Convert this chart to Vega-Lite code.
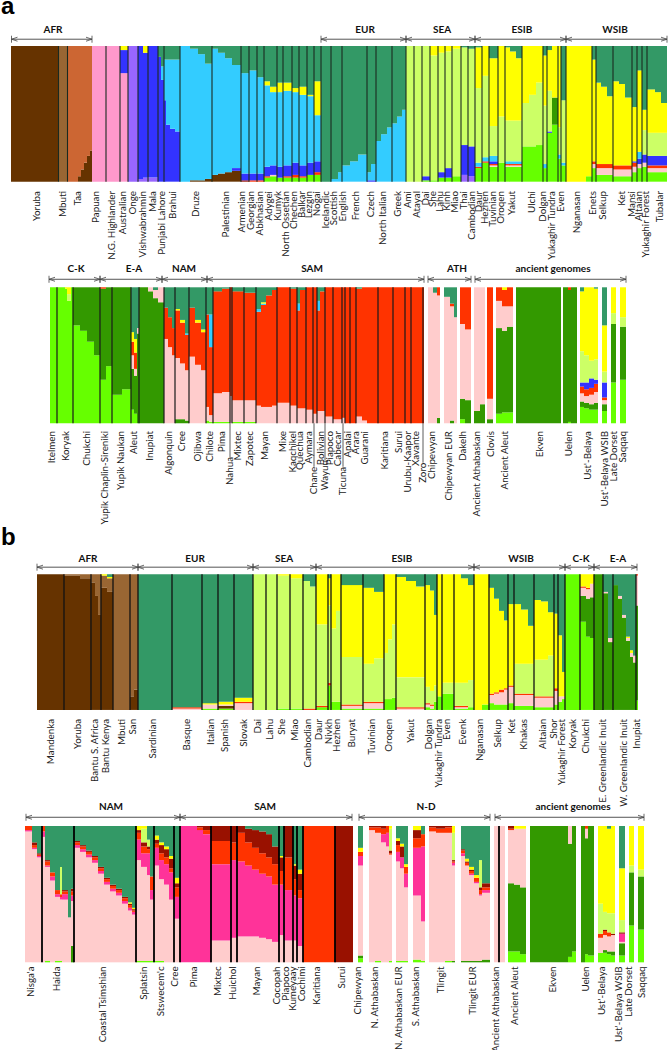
{"$schema":"https://vega.github.io/schema/vega-lite/v6.json","padding":0,"spacing":0,"bounds":"flush","config":{"view":{"stroke":null},"axis":{"disable":true},"legend":{"disable":true}},
"datasets":{
"a1":[
{"x":11,"e":58.5,"brn":1},{"x":58.5,"e":67.5,"tan":1},{"x":67.5,"e":78,"orng":1},{"x":78,"e":81,"orng":0.96,"brn":0.04},{"x":81,"e":84,"orng":0.91,"brn":0.09},{"x":84,"e":87,"orng":0.86,"brn":0.14},{"x":87,"e":90,"orng":0.81,"brn":0.19},{"x":90,"e":92,"orng":0.77,"brn":0.23},
{"x":92,"e":120,"pink":1},{"x":120,"e":128,"yel":0.03,"blue":0.17,"pink":0.8},{"x":128,"e":138,"purp":1},{"x":138,"e":143,"blue":0.98,"purp":0.02},{"x":143,"e":148,"yel":0.05,"blue":0.92,"purp":0.03},{"x":148,"e":158,"blue":0.97,"purp":0.03},{"x":158,"e":161,"teal":0.08,"blue":0.92},{"x":161,"e":164,"teal":0.15,"cyan":0.1,"blue":0.75},
{"x":164,"e":166,"teal":0.1,"cyan":0.3,"blue":0.6},{"x":166,"e":170,"teal":0.1,"cyan":0.48,"blue":0.42},{"x":170,"e":175,"teal":0.1,"cyan":0.51,"blue":0.39},{"x":175,"e":180,"teal":0.1,"cyan":0.53,"blue":0.37},
{"x":180,"e":190,"cyan":1},{"x":190,"e":198,"teal":0.02,"cyan":0.97,"brn":0.01},{"x":198,"e":205,"teal":0.06,"cyan":0.93,"brn":0.01},{"x":205,"e":212,"teal":0.13,"cyan":0.85,"brn":0.02},
{"x":212,"e":218,"teal":0.02,"cyan":0.93,"brn":0.05},{"x":218,"e":225,"teal":0.05,"cyan":0.89,"brn":0.06},{"x":225,"e":232,"teal":0.09,"cyan":0.84,"brn":0.07},{"x":232,"e":241,"teal":0.14,"cyan":0.76,"blue":0.02,"brn":0.08},
{"x":241,"e":249,"teal":0.2,"cyan":0.74,"blue":0.05,"dred":0.01},{"x":249,"e":257,"teal":0.18,"cyan":0.76,"blue":0.05,"red":0.01},{"x":257,"e":264,"teal":0.23,"cyan":0.71,"blue":0.05,"red":0.01},
{"x":264,"e":270,"teal":0.26,"yel":0.03,"cyan":0.6,"blue":0.07,"red":0.01,"grn":0.03},{"x":270,"e":277,"teal":0.3,"yel":0.04,"cyan":0.54,"blue":0.07,"peach":0.01,"grn":0.04},{"x":277,"e":283,"teal":0.27,"yel":0.07,"cyan":0.55,"blue":0.08,"grn":0.03},{"x":283,"e":292,"teal":0.27,"yel":0.06,"cyan":0.55,"blue":0.08,"red":0.01,"grn":0.03},{"x":292,"e":299,"teal":0.31,"yel":0.03,"cyan":0.52,"blue":0.09,"red":0.02,"grn":0.03},{"x":299,"e":307,"teal":0.3,"yel":0.06,"cyan":0.52,"blue":0.08,"red":0.01,"grn":0.03},{"x":307,"e":314,"teal":0.36,"yel":0.01,"cyan":0.49,"blue":0.09,"grn":0.05},{"x":314,"e":321,"teal":0.26,"yel":0.25,"cyan":0.34,"blue":0.08,"red":0.02,"grn":0.05},
{"x":321,"e":331,"teal":1},{"x":331,"e":338,"teal":0.98,"cyan":0.02},{"x":338,"e":342,"teal":0.93,"cyan":0.07},{"x":342,"e":350,"teal":0.88,"cyan":0.12},{"x":350,"e":358,"teal":0.85,"cyan":0.15},{"x":358,"e":367,"teal":0.8,"cyan":0.2},{"x":367,"e":371,"teal":0.93,"cyan":0.06,"blue":0.01},{"x":371,"e":376,"teal":0.87,"cyan":0.12,"blue":0.01},{"x":376,"e":381,"teal":0.7,"cyan":0.3},{"x":381,"e":387,"teal":0.65,"cyan":0.35},{"x":387,"e":392,"teal":0.6,"cyan":0.4},{"x":392,"e":397,"teal":0.57,"cyan":0.43},{"x":397,"e":402,"teal":0.52,"cyan":0.48},{"x":402,"e":406,"teal":0.47,"cyan":0.53},
{"x":406,"e":422,"lime":1},{"x":422,"e":430,"lime":0.96,"blue":0.03,"grn":0.01},{"x":430,"e":438,"yel":0.07,"lime":0.92,"grn":0.01},{"x":438,"e":445,"yel":0.05,"lime":0.88,"blue":0.04,"grn":0.03},{"x":445,"e":452,"yel":0.04,"lime":0.86,"blue":0.07,"grn":0.03},{"x":452,"e":461,"yel":0.02,"lime":0.94,"grn":0.04},{"x":461,"e":468,"teal":0.01,"lime":0.72,"blue":0.22,"purp":0.05},{"x":468,"e":475,"teal":0.02,"lime":0.72,"blue":0.22,"purp":0.04},
{"x":475,"e":482,"teal":0.01,"yel":0.3,"lime":0.55,"cyan":0.03,"red":0.01,"grn":0.1},{"x":482,"e":489,"yel":0.22,"lime":0.6,"cyan":0.03,"red":0.01,"grn":0.14},{"x":489,"e":498,"teal":0.09,"yel":0.5,"lime":0.22,"cyan":0.04,"blue":0.02,"red":0.01,"peach":0.01,"grn":0.11},{"x":498,"e":505,"yel":0.52,"lime":0.34,"grn":0.14},{"x":505,"e":510,"teal":0.01,"yel":0.54,"lime":0.3,"cyan":0.02,"red":0.01,"peach":0.01,"grn":0.11},{"x":510,"e":516,"teal":0.04,"yel":0.51,"lime":0.3,"cyan":0.02,"red":0.01,"peach":0.01,"grn":0.11},{"x":516,"e":522,"teal":0.09,"yel":0.46,"lime":0.3,"cyan":0.02,"red":0.01,"peach":0.01,"grn":0.11},
{"x":522,"e":529,"yel":0.42,"lime":0.32,"grn":0.26},{"x":529,"e":536,"yel":0.36,"lime":0.38,"grn":0.26},{"x":536,"e":543,"yel":0.27,"lime":0.46,"grn":0.27},{"x":543,"e":547,"teal":0.07,"yel":0.37,"lime":0.43,"cyan":0.03,"grn":0.1},{"x":547,"e":552,"teal":0.03,"yel":0.3,"lime":0.3,"blue":0.01,"grn":0.36},{"x":552,"e":558,"yel":0.38,"dgrn":0.2,"grn":0.42},{"x":558,"e":561,"yel":0.6,"lime":0.2,"cyan":0.03,"grn":0.17},{"x":561,"e":566,"teal":0.4,"lime":0.46,"cyan":0.02,"grn":0.12},
{"x":566,"e":586,"yel":1},{"x":586,"e":592,"yel":0.96,"grn":0.04},{"x":592,"e":596,"teal":0.1,"yel":0.75,"red":0.02,"peach":0.03,"grn":0.1},{"x":596,"e":601,"teal":0.27,"yel":0.6,"red":0.03,"peach":0.05,"grn":0.05},{"x":601,"e":607,"teal":0.3,"yel":0.57,"red":0.03,"peach":0.05,"grn":0.05},{"x":607,"e":613,"teal":0.37,"yel":0.5,"red":0.03,"peach":0.05,"grn":0.05},{"x":613,"e":619,"teal":0.26,"yel":0.62,"red":0.03,"peach":0.05,"grn":0.04},{"x":619,"e":625,"teal":0.28,"yel":0.6,"red":0.03,"peach":0.05,"grn":0.04},{"x":625,"e":632,"teal":0.38,"yel":0.5,"red":0.03,"peach":0.05,"grn":0.04},{"x":632,"e":637,"teal":0.45,"yel":0.4,"blue":0.01,"red":0.03,"peach":0.04,"grn":0.07},{"x":637,"e":642,"teal":0.18,"yel":0.6,"cyan":0.05,"blue":0.04,"peach":0.03,"grn":0.1},{"x":642,"e":647,"teal":0.47,"yel":0.15,"lime":0.18,"blue":0.06,"peach":0.03,"grn":0.11},{"x":647,"e":655,"teal":0.32,"yel":0.32,"lime":0.17,"blue":0.07,"red":0.02,"peach":0.03,"grn":0.07},{"x":655,"e":661,"teal":0.34,"yel":0.3,"lime":0.17,"blue":0.07,"red":0.02,"peach":0.03,"grn":0.07},{"x":661,"e":667,"teal":0.42,"yel":0.22,"lime":0.17,"blue":0.07,"red":0.02,"peach":0.03,"grn":0.07}
],
"a2":[
{"x":50,"e":65,"grn":1},{"x":65,"e":67,"yel":0.01,"grn":0.99},{"x":67,"e":71,"yel":0.05,"lime":0.05,"grn":0.9},{"x":71,"e":73,"grn":1},{"x":73,"e":80,"dgrn":0.28,"grn":0.72},{"x":80,"e":87,"dgrn":0.32,"grn":0.68},{"x":87,"e":94,"dgrn":0.4,"grn":0.6},{"x":94,"e":100,"dgrn":0.5,"grn":0.5},{"x":100,"e":106,"red":0.01,"dgrn":0.67,"grn":0.32},{"x":106,"e":112,"dgrn":0.58,"grn":0.42},{"x":112,"e":122,"dgrn":0.79,"grn":0.21},{"x":122,"e":131,"dgrn":0.75,"grn":0.25},
{"x":131,"e":134,"teal":0.33,"yel":0.07,"red":0.1,"peach":0.1,"dgrn":0.3,"grn":0.1},{"x":134,"e":137,"teal":0.38,"yel":0.1,"red":0.12,"peach":0.05,"dgrn":0.28,"grn":0.07},{"x":137,"e":139,"teal":0.3,"peach":0.04,"dgrn":0.66},{"x":139,"e":148,"dgrn":1},{"x":148,"e":153,"peach":0.03,"dgrn":0.97},{"x":153,"e":158,"teal":0.02,"peach":0.06,"dgrn":0.92},{"x":158,"e":164,"peach":0.11,"dgrn":0.89},
{"x":164,"e":168,"teal":0.15,"red":0.23,"peach":0.62},{"x":168,"e":172,"teal":0.22,"red":0.22,"peach":0.56},{"x":172,"e":175,"teal":0.3,"red":0.2,"peach":0.5},{"x":175,"e":180,"teal":0.16,"yel":0.01,"red":0.35,"peach":0.45,"dgrn":0.03},{"x":180,"e":185,"teal":0.24,"yel":0.02,"red":0.3,"peach":0.41,"dgrn":0.03},{"x":185,"e":189,"teal":0.34,"cyan":0.01,"red":0.26,"peach":0.37,"dgrn":0.02},{"x":189,"e":195,"teal":0.15,"red":0.36,"peach":0.49},{"x":195,"e":201,"teal":0.24,"yel":0.02,"red":0.31,"peach":0.43},{"x":201,"e":206,"teal":0.31,"yel":0.02,"red":0.28,"peach":0.39},{"x":206,"e":209,"teal":0.2,"red":0.68,"peach":0.1,"grn":0.02},{"x":209,"e":213,"teal":0.2,"cyan":0.24,"red":0.5,"peach":0.05,"grn":0.01},
{"x":213,"e":222,"teal":0.03,"red":0.75,"peach":0.21,"grn":0.01},{"x":222,"e":230,"teal":0.01,"red":0.76,"peach":0.22,"grn":0.01},{"x":230,"e":232,"red":0.8,"peach":0.2},{"x":232,"e":244,"teal":0.03,"red":0.8,"peach":0.16,"grn":0.01},{"x":244,"e":256,"teal":0.04,"red":0.79,"peach":0.16,"grn":0.01},{"x":256,"e":261,"teal":0.16,"cyan":0.02,"red":0.69,"peach":0.13},{"x":261,"e":266,"teal":0.11,"cyan":0.01,"yel":0.01,"red":0.75,"peach":0.12},{"x":266,"e":272,"teal":0.06,"red":0.82,"peach":0.12},{"x":272,"e":277,"teal":0.02,"red":0.85,"peach":0.13},{"x":277,"e":290,"red":0.85,"peach":0.15},{"x":290,"e":297,"teal":0.01,"red":0.86,"peach":0.13},{"x":297,"e":300,"teal":0.12,"cyan":0.05,"red":0.72,"peach":0.11},{"x":300,"e":306,"teal":0.02,"red":0.87,"peach":0.11},{"x":306,"e":313,"red":0.9,"peach":0.1},{"x":313,"e":317,"red":0.93,"peach":0.07},{"x":317,"e":320,"teal":0.1,"cyan":0.07,"red":0.74,"peach":0.09},{"x":320,"e":325,"teal":0.03,"red":0.88,"peach":0.09},{"x":325,"e":333,"red":0.95,"peach":0.05},{"x":333,"e":342,"red":0.97,"peach":0.03},{"x":342,"e":345,"red":0.96,"peach":0.04},{"x":345,"e":356,"red":1},{"x":356,"e":362,"teal":0.01,"red":0.94,"peach":0.05},{"x":362,"e":367,"red":0.98,"peach":0.02},{"x":367,"e":424,"red":1},
{"x":428,"e":433,"peach":1},{"x":433,"e":437,"teal":0.04,"peach":0.96},{"x":437,"e":440,"red":0.06,"peach":0.9,"dgrn":0.04},{"x":444,"e":450,"teal":0.07,"peach":0.93},{"x":450,"e":454,"teal":0.12,"red":0.02,"peach":0.84,"dgrn":0.02},{"x":454,"e":457,"teal":0.22,"peach":0.78},{"x":460,"e":465,"red":0.27,"peach":0.55,"dgrn":0.15,"grn":0.03},{"x":465,"e":471,"red":0.31,"peach":0.52,"dgrn":0.17},{"x":474,"e":480,"peach":0.91,"dgrn":0.09},{"x":480,"e":485,"peach":0.86,"dgrn":0.14},{"x":487,"e":493,"red":0.82,"peach":0.15,"dgrn":0.03},{"x":496,"e":502,"red":0.1,"peach":0.2,"dgrn":0.63,"grn":0.07},{"x":502,"e":507,"yel":0.02,"red":0.12,"peach":0.18,"dgrn":0.6,"grn":0.08},{"x":507,"e":513,"red":0.14,"peach":0.15,"dgrn":0.63,"grn":0.08},{"x":516,"e":561,"dgrn":1},{"x":563,"e":568,"dgrn":1},{"x":568,"e":571,"red":0.02,"dgrn":0.97,"grn":0.01},{"x":571,"e":577,"dgrn":1},
{"x":580,"e":584,"teal":0.03,"yel":0.44,"lime":0.23,"blue":0.03,"red":0.05,"peach":0.06,"dgrn":0.04,"grn":0.12},{"x":584,"e":589,"yel":0.5,"lime":0.2,"blue":0.05,"red":0.05,"peach":0.05,"dgrn":0.04,"grn":0.11},{"x":589,"e":594,"yel":0.54,"lime":0.13,"blue":0.07,"red":0.05,"peach":0.07,"dgrn":0.04,"grn":0.1},{"x":594,"e":598,"teal":0.01,"yel":0.52,"lime":0.15,"blue":0.03,"red":0.06,"peach":0.08,"dgrn":0.05,"grn":0.1},{"x":602,"e":607,"teal":0.28,"yel":0.34,"lime":0.08,"blue":0.11,"red":0.02,"peach":0.03,"dgrn":0.05,"grn":0.09},{"x":611,"e":616,"yel":0.19,"lime":0.08,"dgrn":0.43,"grn":0.3},{"x":620,"e":626,"yel":0.22,"lime":0.07,"dgrn":0.39,"grn":0.32}
],
"b1":[
{"x":37,"e":64,"brn":1},{"x":64,"e":80,"tan":0.01,"brn":0.99},{"x":80,"e":91,"tan":0.03,"brn":0.97},{"x":91,"e":95,"tan":0.06,"brn":0.94},{"x":95,"e":98,"tan":0.16,"brn":0.84},{"x":98,"e":101,"tan":0.3,"brn":0.7},{"x":101,"e":107,"yel":0.01,"tan":0.09,"brn":0.9},{"x":107,"e":113,"teal":0.02,"yel":0.01,"tan":0.1,"brn":0.87},{"x":113,"e":130,"tan":1},{"x":130,"e":134,"tan":0.9,"brn":0.1},{"x":134,"e":138,"tan":0.85,"brn":0.15},
{"x":138,"e":172,"teal":1},{"x":172,"e":202,"teal":0.98,"red":0.01,"peach":0.01},{"x":202,"e":218,"teal":0.95,"yel":0.01,"peach":0.03,"grn":0.01},{"x":218,"e":234,"teal":0.94,"yel":0.02,"peach":0.01,"brn":0.02,"grn":0.01},{"x":234,"e":253,"teal":0.91,"yel":0.03,"red":0.01,"peach":0.05},
{"x":253,"e":277,"lime":1},{"x":277,"e":290,"yel":0.01,"lime":0.98,"grn":0.01},{"x":290,"e":303,"yel":0.03,"lime":0.96,"grn":0.01},{"x":303,"e":310,"teal":0.05,"lime":0.94,"red":0.01},{"x":310,"e":316,"teal":0.09,"lime":0.9,"red":0.01},
{"x":316,"e":328,"yel":0.37,"lime":0.6,"red":0.01,"grn":0.02},{"x":328,"e":331,"teal":0.03,"yel":0.2,"lime":0.57,"red":0.02,"grn":0.18},{"x":331,"e":336,"yel":0.4,"lime":0.54,"grn":0.06},{"x":336,"e":341,"yel":0.27,"lime":0.67,"grn":0.06},{"x":341,"e":363,"teal":0.08,"yel":0.53,"lime":0.35,"red":0.01,"peach":0.02,"grn":0.01},{"x":363,"e":374,"teal":0.1,"yel":0.56,"lime":0.28,"red":0.01,"peach":0.04,"grn":0.01},{"x":374,"e":384,"teal":0.13,"yel":0.49,"lime":0.32,"red":0.01,"peach":0.04,"grn":0.01},{"x":384,"e":388,"yel":0.58,"lime":0.34,"grn":0.08},{"x":388,"e":392,"yel":0.48,"lime":0.44,"grn":0.08},{"x":392,"e":396,"yel":0.37,"lime":0.54,"grn":0.09},{"x":396,"e":406,"teal":0.02,"yel":0.74,"lime":0.22,"red":0.01,"peach":0.01},{"x":406,"e":416,"teal":0.05,"yel":0.71,"lime":0.22,"red":0.01,"peach":0.01},{"x":416,"e":425,"teal":0.09,"yel":0.67,"lime":0.22,"red":0.01,"peach":0.01},{"x":425,"e":430,"teal":0.08,"yel":0.75,"lime":0.12,"red":0.01,"peach":0.02,"grn":0.02},{"x":430,"e":434,"teal":0.12,"yel":0.74,"lime":0.1,"red":0.01,"peach":0.02,"grn":0.01},{"x":434,"e":437,"teal":0.3,"yel":0.52,"lime":0.12,"grn":0.06},{"x":437,"e":442,"yel":0.9,"grn":0.1},{"x":442,"e":454,"yel":0.8,"lime":0.08,"grn":0.12},{"x":454,"e":461,"yel":0.8,"lime":0.17,"red":0.01,"peach":0.01,"grn":0.01},{"x":461,"e":468,"teal":0.03,"yel":0.77,"lime":0.17,"red":0.01,"peach":0.01,"grn":0.01},{"x":468,"e":474,"teal":0.08,"yel":0.7,"lime":0.2,"grn":0.02},
{"x":474,"e":482,"yel":1},{"x":482,"e":489,"yel":0.96,"grn":0.04},{"x":489,"e":494,"teal":0.1,"yel":0.78,"red":0.01,"peach":0.06,"grn":0.05},{"x":494,"e":499,"teal":0.18,"yel":0.69,"red":0.01,"peach":0.08,"grn":0.04},{"x":499,"e":504,"teal":0.27,"yel":0.58,"red":0.02,"peach":0.09,"grn":0.04},{"x":504,"e":508,"teal":0.34,"yel":0.5,"red":0.01,"peach":0.11,"grn":0.04},{"x":508,"e":514,"teal":0.22,"yel":0.6,"red":0.01,"peach":0.12,"grn":0.05},{"x":514,"e":521,"teal":0.22,"yel":0.44,"lime":0.22,"red":0.01,"peach":0.08,"grn":0.03},{"x":521,"e":528,"teal":0.26,"yel":0.4,"lime":0.22,"red":0.01,"peach":0.08,"grn":0.03},{"x":528,"e":534,"teal":0.38,"yel":0.28,"lime":0.22,"red":0.01,"peach":0.08,"grn":0.03},{"x":534,"e":541,"teal":0.19,"yel":0.44,"lime":0.27,"red":0.01,"peach":0.07,"grn":0.02},{"x":541,"e":548,"teal":0.2,"yel":0.43,"lime":0.27,"red":0.01,"peach":0.07,"grn":0.02},{"x":548,"e":554,"teal":0.28,"yel":0.32,"lime":0.3,"red":0.01,"peach":0.07,"grn":0.02},{"x":554,"e":558,"teal":0.29,"yel":0.55,"red":0.02,"peach":0.1,"grn":0.04},{"x":558,"e":562,"teal":0.45,"yel":0.45,"peach":0.04,"grn":0.06},{"x":562,"e":565,"teal":0.72,"yel":0.18,"peach":0.02,"grn":0.08},
{"x":565,"e":580,"grn":1},{"x":580,"e":586,"yel":0.09,"red":0.01,"peach":0.06,"dgrn":0.19,"grn":0.65},{"x":586,"e":590,"yel":0.1,"red":0.01,"peach":0.07,"dgrn":0.28,"grn":0.54},{"x":590,"e":594,"yel":0.07,"peach":0.1,"dgrn":0.3,"grn":0.53},{"x":594,"e":603,"dgrn":1},{"x":603,"e":608,"teal":0.13,"peach":0.01,"dgrn":0.86},{"x":608,"e":613,"teal":0.47,"peach":0.03,"dgrn":0.5},{"x":613,"e":618,"teal":0.08,"dgrn":0.92},{"x":618,"e":622,"teal":0.16,"peach":0.02,"dgrn":0.82},{"x":622,"e":626,"teal":0.3,"peach":0.02,"dgrn":0.68},{"x":626,"e":630,"teal":0.46,"yel":0.01,"peach":0.02,"dgrn":0.51},{"x":630,"e":633,"teal":0.56,"yel":0.02,"peach":0.03,"dgrn":0.39},{"x":633,"e":636,"teal":0.6,"peach":0.05,"dgrn":0.35},{"x":636,"e":638,"red":0.01,"peach":0.22,"dgrn":0.7,"grn":0.07}
],
"b2":[
{"x":25,"e":32,"red":0.03,"mag":0.01,"peach":0.96},{"x":32,"e":37,"teal":0.12,"dred":0.02,"red":0.02,"mag":0.01,"peach":0.83},{"x":37,"e":42,"teal":0.2,"dred":0.01,"red":0.01,"mag":0.01,"peach":0.77},{"x":42,"e":45,"red":0.04,"mag":0.04,"peach":0.92},{"x":45,"e":50,"teal":0.25,"dred":0.01,"red":0.03,"mag":0.01,"peach":0.69,"grn":0.01},{"x":50,"e":55,"teal":0.34,"red":0.03,"mag":0.03,"peach":0.6},{"x":55,"e":60,"teal":0.47,"red":0.03,"mag":0.02,"peach":0.47,"grn":0.01},{"x":60,"e":62,"teal":0.3,"lime":0.2,"red":0.02,"mag":0.02,"peach":0.45,"grn":0.01},{"x":62,"e":68,"teal":0.47,"dred":0.01,"red":0.02,"mag":0.04,"peach":0.46},{"x":68,"e":71,"teal":0.67,"peach":0.33},{"x":71,"e":74,"teal":0.46,"dred":0.02,"red":0.03,"mag":0.04,"peach":0.33,"dgrn":0.12},
{"x":74,"e":80,"teal":0.11,"dred":0.01,"red":0.02,"mag":0.02,"peach":0.84},{"x":80,"e":86,"teal":0.14,"dred":0.01,"red":0.02,"mag":0.02,"peach":0.81},{"x":86,"e":92,"teal":0.18,"dred":0.01,"red":0.02,"mag":0.02,"peach":0.77},{"x":92,"e":98,"teal":0.22,"dred":0.01,"red":0.02,"mag":0.02,"peach":0.73},{"x":98,"e":104,"teal":0.3,"dred":0.01,"red":0.02,"mag":0.02,"peach":0.65},{"x":104,"e":110,"teal":0.38,"dred":0.01,"red":0.02,"mag":0.02,"peach":0.57},{"x":110,"e":116,"teal":0.43,"dred":0.01,"red":0.02,"mag":0.02,"peach":0.52},{"x":116,"e":122,"teal":0.46,"dred":0.01,"red":0.02,"mag":0.02,"peach":0.49},{"x":122,"e":128,"teal":0.52,"dred":0.01,"red":0.02,"mag":0.02,"peach":0.43},{"x":128,"e":132,"teal":0.56,"yel":0.01,"dred":0.01,"red":0.02,"mag":0.02,"peach":0.38},{"x":132,"e":136,"teal":0.6,"yel":0.01,"dred":0.01,"red":0.01,"mag":0.02,"peach":0.35},
{"x":136,"e":141,"yel":0.03,"dred":0.02,"red":0.05,"mag":0.15,"peach":0.74,"grn":0.01},{"x":141,"e":147,"lime":0.1,"yel":0.02,"dred":0.03,"red":0.05,"mag":0.1,"peach":0.69,"grn":0.01},{"x":147,"e":150,"lime":0.05,"dred":0.02,"red":0.03,"mag":0.16,"peach":0.63,"teal":0.1,"grn":0.01},{"x":150,"e":154,"teal":0.37,"red":0.1,"mag":0.07,"peach":0.45,"grn":0.01},{"x":154,"e":159,"teal":0.07,"yel":0.03,"dred":0.03,"red":0.03,"mag":0.13,"peach":0.7,"grn":0.01},{"x":159,"e":164,"teal":0.12,"yel":0.02,"dred":0.06,"red":0.05,"mag":0.14,"peach":0.6,"grn":0.01},{"x":164,"e":169,"teal":0.15,"yel":0.02,"dred":0.06,"red":0.05,"mag":0.15,"peach":0.57},{"x":169,"e":174,"teal":0.22,"yel":0.02,"dred":0.07,"red":0.03,"mag":0.2,"peach":0.46},{"x":174,"e":180,"teal":0.38,"yel":0.04,"dred":0.03,"red":0.07,"mag":0.16,"peach":0.32},
{"x":180,"e":197,"mag":1},{"x":197,"e":203,"dred":0.01,"red":0.02,"mag":0.97},{"x":203,"e":211,"dred":0.03,"red":0.03,"mag":0.94},{"x":211,"e":231,"dred":0.11,"red":0.17,"mag":0.56,"peach":0.16},{"x":231,"e":237,"dred":0.12,"red":0.13,"mag":0.57,"peach":0.18},{"x":237,"e":245,"dred":0.05,"red":0.21,"mag":0.55,"peach":0.19},{"x":245,"e":252,"teal":0.02,"dred":0.1,"red":0.17,"mag":0.52,"peach":0.19},{"x":252,"e":259,"teal":0.03,"dred":0.13,"red":0.16,"mag":0.49,"peach":0.19},{"x":259,"e":266,"teal":0.04,"dred":0.16,"red":0.15,"mag":0.47,"peach":0.18},{"x":266,"e":272,"teal":0.06,"dred":0.17,"red":0.14,"mag":0.46,"peach":0.17},{"x":272,"e":279,"teal":0.15,"dred":0.13,"red":0.15,"mag":0.42,"peach":0.15},{"x":279,"e":284,"teal":0.22,"yel":0.01,"dred":0.1,"red":0.1,"mag":0.37,"peach":0.2},{"x":284,"e":293,"dred":0.23,"red":0.24,"mag":0.37,"peach":0.16},{"x":293,"e":297,"teal":0.28,"yel":0.01,"dred":0.1,"red":0.12,"mag":0.33,"peach":0.16},{"x":297,"e":303,"teal":0.32,"yel":0.03,"dred":0.12,"red":0.06,"mag":0.35,"peach":0.12},{"x":303,"e":335,"red":1},{"x":335,"e":353,"dred":1},
{"x":358,"e":363,"teal":0.16,"yel":0.03,"red":0.03,"mag":0.07,"peach":0.66,"dgrn":0.02,"grn":0.03},{"x":369,"e":375,"dred":0.01,"red":0.02,"peach":0.97},{"x":375,"e":381,"dred":0.01,"red":0.04,"peach":0.94,"grn":0.01},{"x":381,"e":386,"dred":0.02,"red":0.04,"mag":0.06,"peach":0.88},{"x":386,"e":389,"red":0.05,"mag":0.1,"peach":0.85},{"x":389,"e":392,"lime":0.16,"yel":0.02,"dred":0.02,"red":0.01,"peach":0.78,"grn":0.01},{"x":396,"e":400,"teal":0.09,"yel":0.02,"dred":0.03,"red":0.05,"mag":0.07,"peach":0.73,"grn":0.01},{"x":400,"e":404,"teal":0.13,"yel":0.02,"dred":0.08,"mag":0.08,"peach":0.68,"grn":0.01},{"x":404,"e":408,"teal":0.28,"yel":0.02,"red":0.05,"mag":0.1,"peach":0.54,"grn":0.01},{"x":413,"e":421,"yel":0.03,"dred":0.06,"red":0.07,"mag":0.35,"peach":0.47,"grn":0.02},{"x":421,"e":425,"teal":0.06,"red":0.09,"mag":0.55,"peach":0.29,"grn":0.01},{"x":429,"e":436,"dred":0.01,"red":0.03,"peach":0.96},{"x":436,"e":445,"dred":0.02,"red":0.03,"peach":0.95},{"x":445,"e":452,"dred":0.01,"red":0.04,"peach":0.94,"grn":0.01},{"x":452,"e":455,"yel":0.05,"lime":0.2,"dred":0.01,"red":0.01,"mag":0.02,"peach":0.7,"dgrn":0.01},
{"x":461,"e":465,"teal":0.17,"dred":0.01,"red":0.02,"mag":0.02,"peach":0.77,"dgrn":0.01},{"x":465,"e":469,"teal":0.24,"yel":0.02,"dred":0.01,"red":0.02,"peach":0.7,"dgrn":0.01},{"x":469,"e":474,"teal":0.3,"yel":0.02,"dred":0.01,"red":0.02,"mag":0.01,"peach":0.63,"dgrn":0.01},{"x":474,"e":479,"teal":0.36,"yel":0.02,"red":0.03,"mag":0.01,"peach":0.57,"dgrn":0.01},{"x":479,"e":482,"teal":0.25,"lime":0.2,"dred":0.02,"red":0.03,"mag":0.01,"peach":0.48,"dgrn":0.01},{"x":482,"e":490,"teal":0.42,"dred":0.03,"red":0.02,"mag":0.02,"peach":0.49,"dgrn":0.02},{"x":494,"e":505,"peach":1},
{"x":508,"e":514,"dred":0.02,"red":0.01,"peach":0.39,"dgrn":0.5,"grn":0.08},{"x":514,"e":520,"yel":0.02,"peach":0.41,"dgrn":0.49,"grn":0.08},{"x":520,"e":526,"yel":0.02,"peach":0.43,"dgrn":0.49,"grn":0.06},{"x":530,"e":568,"dgrn":1},{"x":568,"e":572,"peach":0.13,"dgrn":0.83,"grn":0.04},{"x":572,"e":576,"dgrn":0.92,"grn":0.08},{"x":581,"e":585,"dgrn":1},{"x":585,"e":588,"red":0.02,"peach":0.07,"dgrn":0.85,"grn":0.06},{"x":588,"e":594,"dgrn":0.95,"grn":0.05},{"x":598,"e":603,"yel":0.57,"lime":0.22,"red":0.03,"peach":0.11,"grn":0.07},{"x":603,"e":607,"yel":0.63,"lime":0.13,"dred":0.01,"red":0.03,"peach":0.11,"dgrn":0.02,"grn":0.07},{"x":607,"e":611,"teal":0.02,"yel":0.62,"lime":0.14,"red":0.03,"peach":0.11,"dgrn":0.02,"grn":0.06},{"x":611,"e":615,"yel":0.64,"lime":0.15,"dred":0.01,"peach":0.12,"dgrn":0.03,"grn":0.05},{"x":619,"e":625,"teal":0.31,"yel":0.38,"lime":0.09,"dred":0.01,"mag":0.06,"peach":0.01,"dgrn":0.09,"grn":0.05},{"x":629,"e":634,"yel":0.29,"lime":0.05,"dgrn":0.39,"grn":0.27},{"x":638,"e":644,"yel":0.32,"lime":0.05,"dgrn":0.39,"grn":0.24}
],
"a1seps":[{"x":58.5},{"x":67.5},{"x":106},{"x":120},{"x":128},{"x":138},{"x":148},{"x":158},{"x":164},{"x":180},{"x":212},{"x":241},{"x":249},{"x":257},{"x":264},{"x":277},{"x":283},{"x":292},{"x":299},{"x":307},{"x":314},{"x":321},{"x":331},{"x":342},{"x":367},{"x":376},{"x":392},{"x":406},{"x":414},{"x":422},{"x":430},{"x":438},{"x":445},{"x":452},{"x":461},{"x":468},{"x":475},{"x":482},{"x":489},{"x":498},{"x":505},{"x":522},{"x":543},{"x":547},{"x":558},{"x":561},{"x":566},{"x":592},{"x":596},{"x":613},{"x":632},{"x":637},{"x":642},{"x":647}],
"a2seps":[{"x":57},{"x":73},{"x":100},{"x":112},{"x":131},{"x":139},{"x":164},{"x":175},{"x":189},{"x":206},{"x":213},{"x":230},{"x":232},{"x":244},{"x":256},{"x":277},{"x":290},{"x":297},{"x":306},{"x":313},{"x":317},{"x":325},{"x":333},{"x":342},{"x":345},{"x":350},{"x":356},{"x":378},{"x":393},{"x":405},{"x":411},{"x":423}],
"b1seps":[{"x":64},{"x":91},{"x":101},{"x":113},{"x":130},{"x":138},{"x":172},{"x":202},{"x":218},{"x":234},{"x":253},{"x":266},{"x":277},{"x":290},{"x":303},{"x":316},{"x":328},{"x":331},{"x":341},{"x":363},{"x":384},{"x":396},{"x":425},{"x":437},{"x":442},{"x":454},{"x":474},{"x":489},{"x":508},{"x":514},{"x":534},{"x":554},{"x":558},{"x":565},{"x":580},{"x":594},{"x":603},{"x":613},{"x":636}],
"b2seps":[{"x":42},{"x":74},{"x":136},{"x":154},{"x":174},{"x":180},{"x":211},{"x":231},{"x":237},{"x":279},{"x":284},{"x":293},{"x":297},{"x":303},{"x":335},{"x":499}],
"a1names":[{"x":37,"name":"Yoruba"},{"x":63,"name":"Mbuti"},{"x":78,"name":"Taa"},{"x":96,"name":"Papuan"},{"x":112,"name":"N.G. Highlander"},{"x":123,"name":"Australian"},{"x":133,"name":"Onge"},{"x":143,"name":"Vishwabrahmin"},{"x":153,"name":"Mala"},{"x":162,"name":"Punjabi Lahore"},{"x":173,"name":"Brahui"},{"x":196,"name":"Druze"},{"x":226,"name":"Palestinian"},{"x":242,"name":"Armenian"},{"x":251,"name":"Georgian"},{"x":260,"name":"Abkhasian"},{"x":269,"name":"Adygei"},{"x":278,"name":"Kumyk"},{"x":286,"name":"North Ossetian"},{"x":294,"name":"Chechen"},{"x":302,"name":"Balkar"},{"x":309,"name":"Lezgin"},{"x":317,"name":"Nogai"},{"x":326,"name":"Icelandic"},{"x":334,"name":"Scottish"},{"x":343,"name":"English"},{"x":356,"name":"French"},{"x":371,"name":"Czech"},{"x":383,"name":"North Italian"},{"x":398,"name":"Greek"},{"x":408,"name":"Ami"},{"x":417,"name":"Atayal"},{"x":426,"name":"Dai"},{"x":433,"name":"She"},{"x":440,"name":"Lahu"},{"x":447,"name":"Kinh"},{"x":455,"name":"Miao"},{"x":464,"name":"Thai"},{"x":472,"name":"Cambodian"},{"x":479,"name":"Daur"},{"x":485,"name":"Hezhen"},{"x":493,"name":"Tuvinian"},{"x":501,"name":"Oroqen"},{"x":512,"name":"Yakut"},{"x":532,"name":"Ulchi"},{"x":543,"name":"Dolgan"},{"x":552,"name":"Yukaghir Tundra"},{"x":561,"name":"Even"},{"x":577,"name":"Nganasan"},{"x":593,"name":"Enets"},{"x":603,"name":"Selkup"},{"x":622,"name":"Ket"},{"x":632,"name":"Mansi"},{"x":639,"name":"Altaian"},{"x":646,"name":"Yukaghir Forest"},{"x":660,"name":"Tubalar"}],
"a2names":[{"x":52,"name":"Itelmen"},{"x":66,"name":"Koryak"},{"x":87,"name":"Chukchi"},{"x":105,"name":"Yupik Chaplin-Sireniki"},{"x":121,"name":"Yupik Naukan"},{"x":134,"name":"Aleut"},{"x":150,"name":"Inupiat"},{"x":169,"name":"Algonquin"},{"x":182,"name":"Cree"},{"x":198,"name":"Ojibwa"},{"x":210,"name":"Chilote"},{"x":222,"name":"Pima"},{"x":238,"name":"Mixtec"},{"x":250,"name":"Zapotec"},{"x":265,"name":"Mayan"},{"x":283,"name":"Mixe"},{"x":293,"name":"Kaqchikel"},{"x":300,"name":"Quechua"},{"x":309,"name":"Aymara"},{"x":321,"name":"Bolivian"},{"x":330,"name":"Piapoco"},{"x":338,"name":"Cabecar"},{"x":348,"name":"Apalai"},{"x":356,"name":"Arara"},{"x":365,"name":"Guarani"},{"x":385,"name":"Karitiana"},{"x":399,"name":"Surui"},{"x":408,"name":"Urubu-Kaapor"},{"x":416,"name":"Xavante"},{"x":432,"name":"Chipewyan"},{"x":449,"name":"Chipewyan EUR"},{"x":463,"name":"Dakelh"},{"x":477,"name":"Ancient Athabaskan"},{"x":491,"name":"Clovis"},{"x":505,"name":"Ancient Aleut"},{"x":540,"name":"Ekven"},{"x":569,"name":"Uelen"},{"x":588,"name":"Ust'-Belaya"},{"x":605,"name":"Ust'-Belaya WSIB"},{"x":614,"name":"Late Dorset"},{"x":623,"name":"Saqqaq"}],
"a2lead":[{"x":230,"low":-0.248,"name":"Nahua"},{"x":314,"low":-0.32,"name":"Chane"},{"x":325,"low":-0.27,"name":"Wayuu"},{"x":343,"low":-0.32,"name":"Ticuna"},{"x":423,"low":-0.29,"name":"Zoro"}],
"b1names":[{"x":51,"name":"Mandenka"},{"x":78,"name":"Yoruba"},{"x":95,"name":"Bantu S. Africa"},{"x":106,"name":"Bantu Kenya"},{"x":122,"name":"Mbuti"},{"x":133,"name":"San"},{"x":153,"name":"Sardinian"},{"x":187,"name":"Basque"},{"x":211,"name":"Italian"},{"x":225,"name":"Spanish"},{"x":244,"name":"Slovak"},{"x":258,"name":"Dai"},{"x":270,"name":"Lahu"},{"x":282,"name":"She"},{"x":295,"name":"Miao"},{"x":308,"name":"Cambodian"},{"x":319,"name":"Daur"},{"x":329,"name":"Nivkh"},{"x":337,"name":"Hezhen"},{"x":352,"name":"Buryat"},{"x":372,"name":"Tuvinian"},{"x":389,"name":"Oroqen"},{"x":411,"name":"Yakut"},{"x":429,"name":"Dolgan"},{"x":439,"name":"Yukaghir Tundra"},{"x":447,"name":"Even"},{"x":463,"name":"Evenk"},{"x":480,"name":"Nganasan"},{"x":498,"name":"Selkup"},{"x":512,"name":"Ket"},{"x":524,"name":"Khakas"},{"x":543,"name":"Altaian"},{"x":554,"name":"Shor"},{"x":562,"name":"Yukaghir Forest"},{"x":573,"name":"Koryak"},{"x":586,"name":"Chukchi"},{"x":603,"name":"E. Greenlandic Inuit"},{"x":624,"name":"W. Greenlandic Inuit"},{"x":637,"name":"Inupiat"}],
"b2names":[{"x":31,"name":"Nisga'a"},{"x":57,"name":"Haida"},{"x":103,"name":"Coastal Tsimshian"},{"x":144,"name":"Splatsin"},{"x":161,"name":"Stswecem'c"},{"x":175,"name":"Cree"},{"x":194,"name":"Pima"},{"x":218,"name":"Mixtec"},{"x":233,"name":"Huichol"},{"x":257,"name":"Mayan"},{"x":277,"name":"Cocopah"},{"x":286,"name":"Piapoco"},{"x":293,"name":"Kumeyaay"},{"x":302,"name":"Cochimi"},{"x":317,"name":"Karitiana"},{"x":342,"name":"Surui"},{"x":358,"name":"Chipewyan"},{"x":375,"name":"N. Athabaskan"},{"x":399,"name":"N. Athabaskan EUR"},{"x":416,"name":"S. Athabaskan"},{"x":441,"name":"Tlingit"},{"x":473,"name":"Tlingit EUR"},{"x":496,"name":"Ancient Athabaskan"},{"x":515,"name":"Ancient Aleut"},{"x":553,"name":"Ekven"},{"x":586,"name":"Uelen"},{"x":602,"name":"Ust'-Belaya"},{"x":619,"name":"Ust'-Belaya WSIB"},{"x":629,"name":"Late Dorset"},{"x":642,"name":"Saqqaq"}],
"a1reg":[{"from":11.5,"to":92,"mid":53,"name":"AFR"},{"from":321,"to":406,"mid":365,"name":"EUR"},{"from":406,"to":475,"mid":442,"name":"SEA"},{"from":475,"to":566,"mid":522,"name":"ESIB"},{"from":566,"to":667,"mid":615,"name":"WSIB"}],
"a2reg":[{"from":49,"to":100,"mid":76,"name":"C-K"},{"from":100,"to":162,"mid":134,"name":"E-A"},{"from":162,"to":207,"mid":184,"name":"NAM"},{"from":207,"to":424,"mid":312,"name":"SAM"},{"from":428,"to":471,"mid":457,"name":"ATH"},{"from":475,"to":626,"mid":553,"name":"ancient genomes"}],
"b1reg":[{"from":37,"to":138,"mid":88,"name":"AFR"},{"from":138,"to":253,"mid":195,"name":"EUR"},{"from":253,"to":316,"mid":284,"name":"SEA"},{"from":316,"to":474,"mid":402,"name":"ESIB"},{"from":474,"to":565,"mid":521,"name":"WSIB"},{"from":565,"to":594,"mid":581,"name":"C-K"},{"from":594,"to":637,"mid":618,"name":"E-A"}],
"b2reg":[{"from":26,"to":180,"mid":111,"name":"NAM"},{"from":180,"to":352,"mid":265,"name":"SAM"},{"from":359,"to":490,"mid":426,"name":"N-D"},{"from":495,"to":644,"mid":573,"name":"ancient genomes"}]
},
"vconcat":[
{"width":668,"height":262,"layer":[
{"data":{"name":"a1"},"transform":[{"fold":["grn","dgrn","brn","tan","orng","pink","peach","mag","red","dred","purp","blue","cyan","lime","yel","teal"],"as":["k","v"]},{"filter":"isValid(datum.v)"},{"stack":"v","groupby":["x"],"offset":"normalize","as":["y0","y1"]}],"mark":"rect","encoding":{"x":{"field":"x","type":"quantitative","scale":{"domain":[0,668],"nice":false}},"x2":{"field":"e"},"y":{"field":"y1","type":"quantitative","scale":{"domain":[-0.592,1.339],"nice":false}},"y2":{"field":"y0"},"color":{"field":"k","type":"nominal","scale":{"domain":["grn","dgrn","brn","tan","orng","pink","peach","mag","red","dred","purp","blue","cyan","lime","yel","teal"],"range":["#66ff00","#339900","#663300","#996633","#cc6633","#ff99cc","#ffcccc","#ff3399","#ff3300","#991100","#9966ff","#3333ff","#33ccff","#ccff66","#ffff00","#339966"]}}}},
{"data":{"name":"a1seps"},"mark":{"type":"rule","color":"#1a2a20","strokeWidth":1.1},"encoding":{"x":{"field":"x","type":"quantitative"},"y":{"datum":0},"y2":{"datum":1}}},
{"data":{"name":"a1names"},"mark":{"type":"text","angle":270,"align":"right","baseline":"middle","font":"Lato","fontSize":9.8,"color":"#222"},"encoding":{"x":{"field":"x","type":"quantitative"},"y":{"datum":-0.069},"text":{"field":"name"}}},
{"data":{"name":"a1reg"},"mark":{"type":"rule","color":"#555","strokeWidth":1},"encoding":{"x":{"field":"from","type":"quantitative"},"x2":{"field":"to"},"y":{"datum":1.05}}},
{"data":{"name":"a1reg"},"mark":{"type":"point","shape":"M0,-3.5L0,3.5M6,-2L0,0L6,2","size":4,"filled":false,"color":"#444","strokeWidth":0.8,"opacity":1},"encoding":{"x":{"field":"from","type":"quantitative"},"y":{"datum":1.05}}},
{"data":{"name":"a1reg"},"mark":{"type":"point","shape":"M0,-3.5L0,3.5M-6,-2L0,0L-6,2","size":4,"filled":false,"color":"#444","strokeWidth":0.8,"opacity":1},"encoding":{"x":{"field":"to","type":"quantitative"},"y":{"datum":1.05}}},
{"data":{"name":"a1reg"},"mark":{"type":"text","font":"Lato","fontWeight":"bold","fontSize":10,"color":"#111","baseline":"middle"},"encoding":{"x":{"field":"mid","type":"quantitative"},"y":{"datum":1.118},"text":{"field":"name"}}},
{"data":{"values":[{"x":1,"name":"a"}]},"mark":{"type":"text","clip":true,"font":"Liberation Sans","fontWeight":"bold","fontSize":24,"align":"left","baseline":"middle","color":"#000"},"encoding":{"x":{"field":"x","type":"quantitative"},"y":{"datum":1.285},"text":{"field":"name"}}}
]},
{"width":668,"height":268,"layer":[
{"data":{"name":"a2"},"transform":[{"fold":["grn","dgrn","brn","tan","orng","pink","peach","mag","red","dred","purp","blue","cyan","lime","yel","teal"],"as":["k","v"]},{"filter":"isValid(datum.v)"},{"stack":"v","groupby":["x"],"offset":"normalize","as":["y0","y1"]}],"mark":"rect","encoding":{"x":{"field":"x","type":"quantitative","scale":{"domain":[0,668],"nice":false}},"x2":{"field":"e"},"y":{"field":"y1","type":"quantitative","scale":{"domain":[-0.785,1.186],"nice":false}},"y2":{"field":"y0"},"color":{"field":"k","type":"nominal","scale":{"domain":["grn","dgrn","brn","tan","orng","pink","peach","mag","red","dred","purp","blue","cyan","lime","yel","teal"],"range":["#66ff00","#339900","#663300","#996633","#cc6633","#ff99cc","#ffcccc","#ff3399","#ff3300","#991100","#9966ff","#3333ff","#33ccff","#ccff66","#ffff00","#339966"]}}}},
{"data":{"name":"a2seps"},"mark":{"type":"rule","color":"#1a1a1a","strokeWidth":1.2},"encoding":{"x":{"field":"x","type":"quantitative"},"y":{"datum":0},"y2":{"datum":1}}},
{"data":{"name":"a2names"},"mark":{"type":"text","angle":270,"align":"right","baseline":"middle","font":"Lato","fontSize":9.8,"color":"#222"},"encoding":{"x":{"field":"x","type":"quantitative"},"y":{"datum":-0.057},"text":{"field":"name"}}},
{"data":{"name":"a2lead"},"mark":{"type":"rule","color":"#333","strokeWidth":0.8},"encoding":{"x":{"field":"x","type":"quantitative"},"y":{"field":"low","type":"quantitative"},"y2":{"datum":0}}},
{"data":{"name":"a2lead"},"mark":{"type":"text","angle":270,"align":"right","baseline":"middle","font":"Lato","fontSize":9.8,"color":"#222"},"encoding":{"x":{"field":"x","type":"quantitative"},"y":{"field":"low","type":"quantitative"},"text":{"field":"name"}}},
{"data":{"name":"a2reg"},"mark":{"type":"rule","color":"#555","strokeWidth":1},"encoding":{"x":{"field":"from","type":"quantitative"},"x2":{"field":"to"},"y":{"datum":1.059}}},
{"data":{"name":"a2reg"},"mark":{"type":"point","shape":"M0,-3.5L0,3.5M6,-2L0,0L6,2","size":4,"filled":false,"color":"#444","strokeWidth":0.8,"opacity":1},"encoding":{"x":{"field":"from","type":"quantitative"},"y":{"datum":1.059}}},
{"data":{"name":"a2reg"},"mark":{"type":"point","shape":"M0,-3.5L0,3.5M-6,-2L0,0L-6,2","size":4,"filled":false,"color":"#444","strokeWidth":0.8,"opacity":1},"encoding":{"x":{"field":"to","type":"quantitative"},"y":{"datum":1.059}}},
{"data":{"name":"a2reg"},"mark":{"type":"text","font":"Lato","fontWeight":"bold","fontSize":10,"color":"#111","baseline":"middle"},"encoding":{"x":{"field":"mid","type":"quantitative"},"y":{"datum":1.132},"text":{"field":"name"}}}
]},
{"width":668,"height":260,"layer":[
{"data":{"name":"b1"},"transform":[{"fold":["grn","dgrn","brn","tan","orng","pink","peach","mag","red","dred","purp","blue","cyan","lime","yel","teal"],"as":["k","v"]},{"filter":"isValid(datum.v)"},{"stack":"v","groupby":["x"],"offset":"normalize","as":["y0","y1"]}],"mark":"rect","encoding":{"x":{"field":"x","type":"quantitative","scale":{"domain":[0,668],"nice":false}},"x2":{"field":"e"},"y":{"field":"y1","type":"quantitative","scale":{"domain":[-0.59,1.326],"nice":false}},"y2":{"field":"y0"},"color":{"field":"k","type":"nominal","scale":{"domain":["grn","dgrn","brn","tan","orng","pink","peach","mag","red","dred","purp","blue","cyan","lime","yel","teal"],"range":["#66ff00","#339900","#663300","#996633","#cc6633","#ff99cc","#ffcccc","#ff3399","#ff3300","#991100","#9966ff","#3333ff","#33ccff","#ccff66","#ffff00","#339966"]}}}},
{"data":{"name":"b1seps"},"mark":{"type":"rule","color":"#111","strokeWidth":1.3},"encoding":{"x":{"field":"x","type":"quantitative"},"y":{"datum":0},"y2":{"datum":1}}},
{"data":{"name":"b1names"},"mark":{"type":"text","angle":270,"align":"right","baseline":"middle","font":"Lato","fontSize":9.8,"color":"#222"},"encoding":{"x":{"field":"x","type":"quantitative"},"y":{"datum":-0.066},"text":{"field":"name"}}},
{"data":{"name":"b1reg"},"mark":{"type":"rule","color":"#555","strokeWidth":1},"encoding":{"x":{"field":"from","type":"quantitative"},"x2":{"field":"to"},"y":{"datum":1.052}}},
{"data":{"name":"b1reg"},"mark":{"type":"point","shape":"M0,-3.5L0,3.5M6,-2L0,0L6,2","size":4,"filled":false,"color":"#444","strokeWidth":0.8,"opacity":1},"encoding":{"x":{"field":"from","type":"quantitative"},"y":{"datum":1.052}}},
{"data":{"name":"b1reg"},"mark":{"type":"point","shape":"M0,-3.5L0,3.5M-6,-2L0,0L-6,2","size":4,"filled":false,"color":"#444","strokeWidth":0.8,"opacity":1},"encoding":{"x":{"field":"to","type":"quantitative"},"y":{"datum":1.052}}},
{"data":{"name":"b1reg"},"mark":{"type":"text","font":"Lato","fontWeight":"bold","fontSize":10,"color":"#111","baseline":"middle"},"encoding":{"x":{"field":"mid","type":"quantitative"},"y":{"datum":1.11},"text":{"field":"name"}}},
{"data":{"values":[{"x":1,"name":"b"}]},"mark":{"type":"text","font":"Liberation Sans","fontWeight":"bold","fontSize":24,"align":"left","baseline":"middle","color":"#000"},"encoding":{"x":{"field":"x","type":"quantitative"},"y":{"datum":1.267},"text":{"field":"name"}}}
]},
{"width":668,"height":260,"layer":[
{"data":{"name":"b2"},"transform":[{"fold":["grn","dgrn","brn","tan","orng","pink","peach","mag","red","dred","purp","blue","cyan","lime","yel","teal"],"as":["k","v"]},{"filter":"isValid(datum.v)"},{"stack":"v","groupby":["x"],"offset":"normalize","as":["y0","y1"]}],"mark":"rect","encoding":{"x":{"field":"x","type":"quantitative","scale":{"domain":[0,668],"nice":false}},"x2":{"field":"e"},"y":{"field":"y1","type":"quantitative","scale":{"domain":[-0.643,1.264],"nice":false}},"y2":{"field":"y0"},"color":{"field":"k","type":"nominal","scale":{"domain":["grn","dgrn","brn","tan","orng","pink","peach","mag","red","dred","purp","blue","cyan","lime","yel","teal"],"range":["#66ff00","#339900","#663300","#996633","#cc6633","#ff99cc","#ffcccc","#ff3399","#ff3300","#991100","#9966ff","#3333ff","#33ccff","#ccff66","#ffff00","#339966"]}}}},
{"data":{"name":"b2seps"},"mark":{"type":"rule","color":"#000","strokeWidth":1.8},"encoding":{"x":{"field":"x","type":"quantitative"},"y":{"datum":0},"y2":{"datum":1}}},
{"data":{"name":"b2names"},"mark":{"type":"text","angle":270,"align":"right","baseline":"middle","font":"Lato","fontSize":9.8,"color":"#222"},"encoding":{"x":{"field":"x","type":"quantitative"},"y":{"datum":-0.03},"text":{"field":"name"}}},
{"data":{"name":"b2reg"},"mark":{"type":"rule","color":"#555","strokeWidth":1},"encoding":{"x":{"field":"from","type":"quantitative"},"x2":{"field":"to"},"y":{"datum":1.064}}},
{"data":{"name":"b2reg"},"mark":{"type":"point","shape":"M0,-3.5L0,3.5M6,-2L0,0L6,2","size":4,"filled":false,"color":"#444","strokeWidth":0.8,"opacity":1},"encoding":{"x":{"field":"from","type":"quantitative"},"y":{"datum":1.064}}},
{"data":{"name":"b2reg"},"mark":{"type":"point","shape":"M0,-3.5L0,3.5M-6,-2L0,0L-6,2","size":4,"filled":false,"color":"#444","strokeWidth":0.8,"opacity":1},"encoding":{"x":{"field":"to","type":"quantitative"},"y":{"datum":1.064}}},
{"data":{"name":"b2reg"},"mark":{"type":"text","font":"Lato","fontWeight":"bold","fontSize":10,"color":"#111","baseline":"middle"},"encoding":{"x":{"field":"mid","type":"quantitative"},"y":{"datum":1.142},"text":{"field":"name"}}}
]}
]}
